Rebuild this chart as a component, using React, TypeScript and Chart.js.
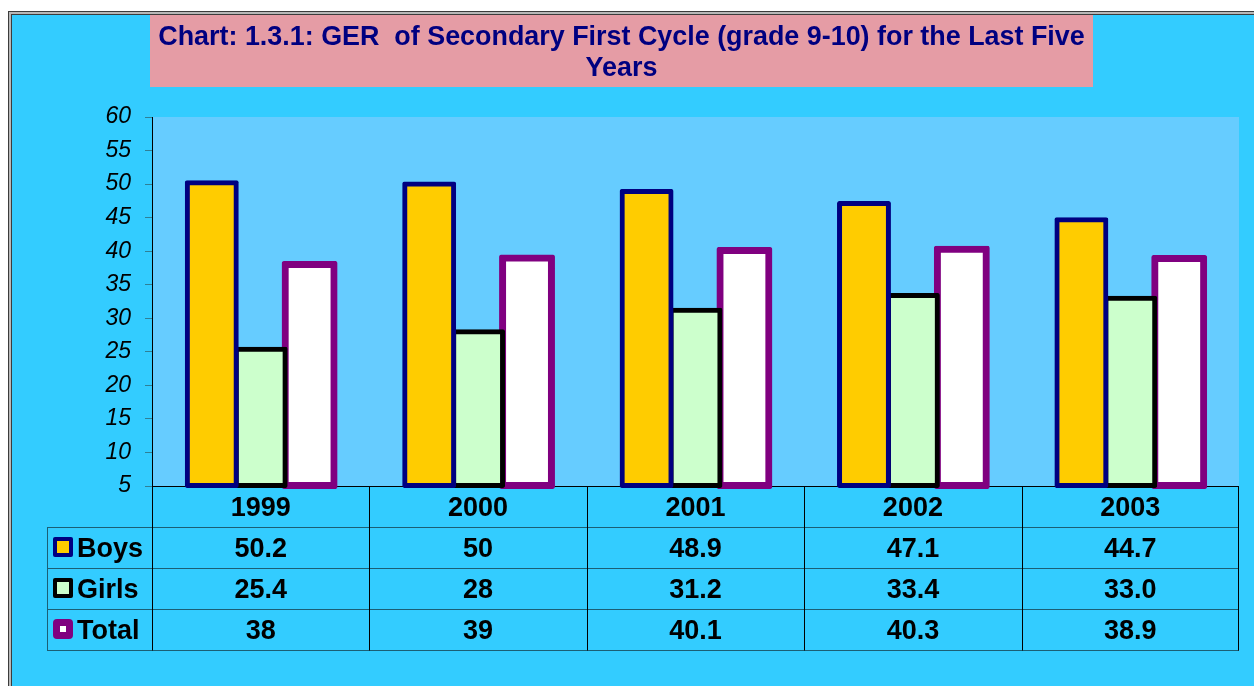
import React, { useEffect, useRef } from "react";
import { Chart, registerables } from "chart.js";

Chart.register(...registerables);

// ---------- data ----------
const years = ["1999", "2000", "2001", "2002", "2003"];
const seriesNames = ["Boys", "Girls", "Total"];
const boysValues = ["50.2", "50", "48.9", "47.1", "44.7"];
const girlsValues = ["25.4", "28", "31.2", "33.4", "33.0"];
const totalValues = ["38", "39", "40.1", "40.3", "38.9"];
const titleLines = [
  "Chart: 1.3.1: GER  of Secondary First Cycle (grade 9-10) for the Last Five",
  "Years",
];
const yMin = 5;
const yMax = 60;
const yStep = 5;

// ---------- styles ----------
const W = 1254;
const H = 686;
const FONT = "'Liberation Sans', Arial, sans-serif";
const PAGE_BG = "#33CCFF";
const PLOT_BG = "#66CCFF";
const TITLE_BG = "#E59CA5";
const NAVY = "#000080";
const PURPLE = "#800080";
const seriesStyles = [
  { fill: "#FFCC00", border: NAVY, width: 5 },
  { fill: "#CCFFCC", border: "#000000", width: 5 },
  { fill: "#FFFFFF", border: PURPLE, width: 7 },
];
const tableTexts = [boysValues, girlsValues, totalValues];

const decorPlugin = {
  id: "decor",
  beforeDraw(chart: any) {
    const ctx = chart.ctx;
    const ca = chart.chartArea;
    ctx.save();
    ctx.fillStyle = "#FFFFFF";
    ctx.fillRect(0, 0, W, H);
    // frame
    ctx.fillStyle = "#3c3c3c";
    ctx.fillRect(8, 11, W, H);
    ctx.fillStyle = "#b8b8b8";
    ctx.fillRect(9, 12, W, H);
    ctx.fillStyle = "#3c3c3c";
    ctx.fillRect(11, 14, W, H);
    ctx.fillStyle = PAGE_BG;
    ctx.fillRect(12, 15, W, H);
    // title box
    ctx.fillStyle = TITLE_BG;
    ctx.fillRect(150, 15, 943, 72);
    ctx.fillStyle = NAVY;
    ctx.font = `bold 26.9px ${FONT}`;
    ctx.textAlign = "center";
    ctx.textBaseline = "alphabetic";
    ctx.fillText(titleLines[0], 621.5, 45);
    ctx.fillText(titleLines[1], 621.5, 76);
    // plot area
    ctx.fillStyle = PLOT_BG;
    ctx.fillRect(ca.left, ca.top, ca.right - ca.left, ca.bottom - ca.top);
    ctx.restore();
  },
  beforeDatasetsDraw(chart: any) {
    const ctx = chart.ctx;
    const ca = chart.chartArea;
    ctx.save();
    ctx.strokeStyle = "#000000";
    ctx.lineWidth = 1;
    ctx.beginPath();
    ctx.moveTo(ca.left, ca.bottom + 0.5);
    ctx.lineTo(ca.right, ca.bottom + 0.5);
    ctx.stroke();
    ctx.restore();
  },
  afterDraw(chart: any) {
    const ctx = chart.ctx;
    const ca = chart.chartArea;
    const xs = chart.scales.x;
    const n = years.length;
    const colW = (ca.right - ca.left) / n;
    const rowH = 41;
    const top = ca.bottom;
    const legendLeft = 47;
    const bottom = top + rowH * 4;
    ctx.save();
    // horizontal lines
    ctx.strokeStyle = "#1b5f75";
    ctx.lineWidth = 1;
    for (let r = 1; r <= 4; r++) {
      const y = Math.round(top + rowH * r) + 0.5;
      ctx.beginPath();
      ctx.moveTo(legendLeft, y);
      ctx.lineTo(ca.right, y);
      ctx.stroke();
    }
    // legend column left
    ctx.beginPath();
    ctx.moveTo(legendLeft + 0.5, top + rowH);
    ctx.lineTo(legendLeft + 0.5, bottom);
    ctx.stroke();
    // vertical lines
    ctx.strokeStyle = "#000000";
    for (let i = 0; i <= n; i++) {
      const x =
        i < n
          ? Math.round(xs.getPixelForValue(i) - colW / 2) + 0.5
          : Math.round(xs.getPixelForValue(n - 1) + colW / 2) - 0.5;
      ctx.beginPath();
      ctx.moveTo(x, top);
      ctx.lineTo(x, bottom + 0.5);
      ctx.stroke();
    }
    // texts
    ctx.fillStyle = "#000000";
    ctx.font = `bold 27px ${FONT}`;
    ctx.textAlign = "center";
    ctx.textBaseline = "alphabetic";
    for (let i = 0; i < n; i++) {
      const cx = xs.getPixelForValue(i);
      ctx.fillText(years[i], cx, top + 30);
      for (let s = 0; s < 3; s++) {
        ctx.fillText(tableTexts[s][i], cx, top + rowH * (s + 1) + 30);
      }
    }
    // legend
    ctx.textAlign = "left";
    for (let s = 0; s < 3; s++) {
      const st = seriesStyles[s];
      const rowTop = top + rowH * (s + 1);
      const my = rowTop + 10;
      const mx = 53;
      const size = 20;
      const bw = s === 2 ? 7 : 4;
      ctx.fillStyle = st.border;
      ctx.beginPath();
      (ctx as any).roundRect(mx, my, size, size, s === 2 ? 4 : 2);
      ctx.fill();
      ctx.fillStyle = st.fill;
      ctx.fillRect(mx + bw, my + bw, size - 2 * bw, size - 2 * bw);
      ctx.fillStyle = "#000000";
      ctx.fillText(seriesNames[s], 77, rowTop + 30);
    }
    ctx.restore();
  },
};

export default function App() {
  const ref = useRef<HTMLCanvasElement | null>(null);
  useEffect(() => {
    if (!ref.current) return;
    const datasets = [boysValues, girlsValues, totalValues].map((vals, s) => ({
      label: seriesNames[s],
      data: vals.map(Number),
      base: yMin,
      backgroundColor: seriesStyles[s].fill,
      borderColor: seriesStyles[s].border,
      borderWidth: seriesStyles[s].width,
      borderSkipped: false,
      borderRadius: 2,
      inflateAmount: seriesStyles[s].width / 2,
      categoryPercentage: 0.675,
      barPercentage: 1,
      clip: false,
    }));
    const chart = new Chart(ref.current, {
      type: "bar",
      data: { labels: years, datasets: datasets as any },
      options: {
        animation: false,
        responsive: false,
        devicePixelRatio: 1,
        layout: { padding: { left: 0, right: 15, top: 117, bottom: 200 } },
        plugins: {
          legend: { display: false },
          title: { display: false },
          tooltip: { enabled: false },
        },
        scales: {
          x: { display: false },
          y: {
            min: yMin,
            max: yMax,
            afterFit: (scale: any) => {
              scale.width = 152;
            },
            ticks: {
              stepSize: yStep,
              color: "#000000",
              padding: 14,
              font: { family: FONT, size: 23, style: "italic" },
            },
            grid: {
              drawOnChartArea: false,
              drawTicks: true,
              tickLength: 7,
              color: "#2F7F96",
            },
            border: { display: true, color: "#000000", width: 1 },
          },
        },
      },
      plugins: [decorPlugin],
    });
    return () => chart.destroy();
  }, []);
  return (
    <div style={{ position: "fixed", left: 0, top: 0, width: W, height: H }}>
      <canvas ref={ref} width={W} height={H} style={{ display: "block" }} />
    </div>
  );
}
